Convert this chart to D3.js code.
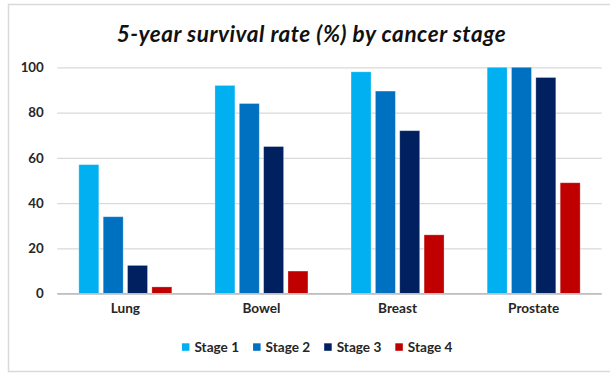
<!DOCTYPE html>
<html>
<head>
<meta charset="utf-8">
<script src="https://cdn.jsdelivr.net/npm/d3@7"></script>
<style>
  html, body { margin: 0; padding: 0; background: #fff; }
  svg { display: block; font-family: Lato, "Open Sans", sans-serif; }
</style>
</head>
<body>
<svg id="chart" width="610" height="374"></svg>
<script>
// Cancer types along the x axis
const categories = ["Lung", "Bowel", "Breast", "Prostate"];
// Series names (stages) and their 5-year survival values, one per category
const stages = ["Stage 1", "Stage 2", "Stage 3", "Stage 4"];
const stage1 = [57, 92, 98, 100];
const stage2 = [34, 84, 89.5, 100];
const stage3 = [12.5, 65, 72, 95.5];
const stage4 = [3, 10, 26, 49];
const yTicks = [0, 20, 40, 60, 80, 100];
const colors = ["#00B0F0", "#0070C0", "#002060", "#C00000"];

const seriesValues = [stage1, stage2, stage3, stage4];
const rows = categories.map((c, i) => ({
  category: c,
  values: stages.map((s, j) => ({ stage: s, value: seriesValues[j][i] }))
}));

const svg = d3.select("#chart");
const W = 610, H = 374;
const plot = { left: 57.3, right: 601.7, top: 67.3, bottom: 293.7 };
const textColor = "#262626";

// Outer chart frame
svg.append("rect")
  .attr("x", 8.5).attr("y", 4.5)
  .attr("width", W + 10).attr("height", 367)
  .attr("fill", "#fff")
  .attr("stroke", "#d9d9d9").attr("stroke-width", 1.5);

// Title
svg.append("text")
  .attr("x", 311.5).attr("y", 42)
  .attr("text-anchor", "middle")
  .attr("font-size", 22.5)
  .attr("font-weight", "bold")
  .attr("font-style", "italic")
  .attr("letter-spacing", 0.55)
  .attr("fill", "#111")
  .text("5-year survival rate (%) by cancer stage");

const x0 = d3.scaleBand()
  .domain(categories)
  .range([plot.left, plot.right])
  .paddingInner(0).paddingOuter(0);

const groupFrac = 93 / 136.1;
const groupOffset = x0.bandwidth() * (1 - groupFrac) / 2;
const x1 = d3.scaleBand()
  .domain(stages)
  .range([groupOffset, groupOffset + x0.bandwidth() * groupFrac])
  .paddingInner(0.18).paddingOuter(0);

const y = d3.scaleLinear().domain([0, 100]).range([plot.bottom, plot.top]);
const color = d3.scaleOrdinal().domain(stages).range(colors);

// Horizontal gridlines via the y axis
const yAxis = svg.append("g")
  .attr("transform", `translate(${plot.left},0)`)
  .call(d3.axisLeft(y).tickValues(yTicks).tickSize(-(plot.right - plot.left)).tickPadding(13.5).tickFormat(d3.format("d")));
yAxis.select(".domain").remove();
yAxis.selectAll(".tick line")
  .attr("stroke", d => d === 0 ? "#bfbfbf" : "#d9d9d9")
  .attr("stroke-width", 1.3);
yAxis.selectAll(".tick text")
  .attr("font-size", 13.3)
  .attr("font-weight", "bold")
  .attr("font-family", "Lato, sans-serif")
  .attr("fill", textColor);

// Bars
const groups = svg.append("g").selectAll("g")
  .data(rows)
  .join("g")
  .attr("transform", d => `translate(${x0(d.category)},0)`);

groups.selectAll("rect")
  .data(d => d.values)
  .join("rect")
  .attr("x", d => x1(d.stage))
  .attr("width", x1.bandwidth())
  .attr("y", d => y(d.value))
  .attr("height", d => y(0) - y(d.value))
  .attr("fill", d => color(d.stage))
  .attr("stroke", "#ffffff")
  .attr("stroke-opacity", 0.35)
  .attr("stroke-width", 0.8);

// Redraw the baseline over the bars
svg.append("line")
  .attr("x1", plot.left).attr("x2", plot.right)
  .attr("y1", plot.bottom).attr("y2", plot.bottom)
  .attr("stroke", "#bfbfbf").attr("stroke-width", 1.3);

// Category labels
const xAxis = svg.append("g")
  .attr("transform", `translate(0,${plot.bottom})`)
  .call(d3.axisBottom(x0).tickSize(0).tickPadding(10));
xAxis.select(".domain").remove();
xAxis.selectAll(".tick text")
  .attr("font-size", 13.6)
  .attr("font-weight", "bold")
  .attr("font-family", "Lato, sans-serif")
  .attr("fill", textColor);

// Legend
const legend = svg.append("g");
const items = legend.selectAll("g")
  .data(stages)
  .join("g");
items.append("rect")
  .attr("width", 7.5).attr("height", 7.5)
  .attr("y", 343.3)
  .attr("fill", d => color(d));
items.append("text")
  .attr("x", 12.5).attr("y", 351.5)
  .attr("font-size", 13.6)
  .attr("font-weight", "bold")
  .attr("fill", textColor)
  .text(d => d);

let cursor = 0;
const widths = [];
items.each(function () {
  const w = 12.5 + d3.select(this).select("text").node().getComputedTextLength();
  widths.push(w);
});
const gap = 14;
const total = d3.sum(widths) + gap * (widths.length - 1);
const start = 317.2 - total / 2;
items.attr("transform", (d, i) => {
  const tx = start + cursor;
  cursor += widths[i] + gap;
  return `translate(${tx},0)`;
});
</script>
</body>
</html>
